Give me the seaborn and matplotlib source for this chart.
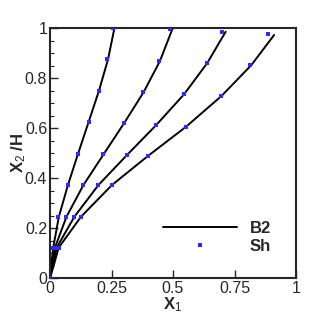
import matplotlib
matplotlib.use("Agg")
import matplotlib.pyplot as plt
import seaborn as sns
import pandas as pd
from matplotlib.ticker import MultipleLocator, FixedLocator
from matplotlib.lines import Line2D

# ---- data ----
# B2 lines
line1_x = [0, 0.003, 0.006, 0.013, 0.036, 0.073, 0.114, 0.157, 0.199, 0.236, 0.262]
line1_y = [0, 0.03, 0.06, 0.121, 0.245, 0.372, 0.497, 0.624, 0.749, 0.875, 1.0]
line2_x = [0, 0.005, 0.010, 0.020, 0.067, 0.136, 0.218, 0.301, 0.381, 0.447, 0.499]
line2_y = [0, 0.03, 0.06, 0.121, 0.245, 0.372, 0.495, 0.619, 0.744, 0.868, 1.0]
line3_x = [0, 0.007, 0.014, 0.027, 0.099, 0.197, 0.313, 0.432, 0.546, 0.640, 0.714]
line3_y = [0, 0.03, 0.06, 0.121, 0.245, 0.372, 0.492, 0.612, 0.736, 0.861, 0.985]
line4_x = [0, 0.009, 0.018, 0.035, 0.126, 0.252, 0.398, 0.553, 0.697, 0.818, 0.911]
line4_y = [0, 0.03, 0.06, 0.121, 0.245, 0.372, 0.488, 0.605, 0.728, 0.851, 0.972]

# Sh markers
sh1_x = [0, 0.013, 0.034, 0.072, 0.113, 0.157, 0.198, 0.233, 0.257]
sh1_y = [0, 0.121, 0.245, 0.372, 0.497, 0.624, 0.749, 0.875, 1.0]
sh2_x = [0, 0.020, 0.066, 0.135, 0.217, 0.301, 0.379, 0.444, 0.487]
sh2_y = [0, 0.121, 0.245, 0.372, 0.495, 0.619, 0.744, 0.868, 0.995]
sh3_x = [0, 0.027, 0.098, 0.196, 0.312, 0.431, 0.545, 0.637, 0.698]
sh3_y = [0, 0.121, 0.245, 0.372, 0.492, 0.612, 0.736, 0.861, 0.985]
sh4_x = [0, 0.035, 0.125, 0.251, 0.397, 0.552, 0.694, 0.813, 0.888]
sh4_y = [0, 0.121, 0.245, 0.372, 0.488, 0.605, 0.728, 0.851, 0.976]

x_ticks = [0, 0.25, 0.5, 0.75, 1]
x_ticklabels = ["0", "0.25", "0.5", "0.75", "1"]
y_ticks = [0, 0.2, 0.4, 0.6, 0.8, 1]
y_ticklabels = ["0", "0.2", "0.4", "0.6", "0.8", "1"]
legend_labels = ["B2", "Sh"]

# ---- build tables ----
lines = []
for i, (xs, ys) in enumerate([(line1_x, line1_y), (line2_x, line2_y),
                              (line3_x, line3_y), (line4_x, line4_y)]):
    lines.append(pd.DataFrame({"x": xs, "y": ys, "curve": i}))
df_lines = pd.concat(lines, ignore_index=True)

pts = []
for i, (xs, ys) in enumerate([(sh1_x, sh1_y), (sh2_x, sh2_y),
                              (sh3_x, sh3_y), (sh4_x, sh4_y)]):
    pts.append(pd.DataFrame({"x": xs, "y": ys, "curve": i}))
df_pts = pd.concat(pts, ignore_index=True)

# ---- style ----
sns.set_style("ticks")
plt.rcParams["font.family"] = ["Liberation Sans", "DejaVu Sans"]
plt.rcParams["mathtext.fontset"] = "custom"
plt.rcParams["mathtext.rm"] = "Liberation Sans"
plt.rcParams["mathtext.it"] = "Liberation Sans"
plt.rcParams["mathtext.bf"] = "Liberation Sans:bold"

fig = plt.figure(figsize=(3.3, 3.3), dpi=100)
ax = fig.add_axes([50/330, 52/330, 246/330, 250/330])

sns.lineplot(data=df_lines, x="x", y="y", units="curve", estimator=None,
             sort=False, color="black", linewidth=1.4, ax=ax, legend=False)
sns.scatterplot(data=df_pts, x="x", y="y", color="#2b2bff", marker="s",
                s=9, linewidth=0, ax=ax, legend=False, zorder=3)

ax.set_xlim(0, 1)
ax.set_ylim(0, 1)
ax.xaxis.set_major_locator(FixedLocator(x_ticks))
ax.set_xticklabels(x_ticklabels)
ax.yaxis.set_major_locator(FixedLocator(y_ticks))
ax.set_yticklabels(y_ticklabels)
ax.yaxis.set_minor_locator(MultipleLocator(0.05))
ax.tick_params(axis="both", which="major", direction="in", length=6,
               width=1.0, labelsize=11.5, pad=2, top=False, right=False)
ax.tick_params(axis="y", which="minor", direction="in", length=3,
               width=0.8, right=False)
for s in ax.spines.values():
    s.set_linewidth(1.5)
    s.set_visible(True)

ax.set_xlabel("X$_1$", fontsize=12, fontweight="bold", labelpad=0)
ax.set_ylabel("X$_2$ /H", fontsize=12, fontweight="bold", labelpad=-2)

# legend
handles = [Line2D([], [], color="black", linewidth=1.4),
           Line2D([], [], color="#2b2bff", marker="s", markersize=3,
                  linestyle="none", markeredgewidth=0)]
leg = ax.legend(handles, legend_labels, loc="lower right",
                bbox_to_anchor=(0.96, 0.035), frameon=False,
                handlelength=4.4, handletextpad=0.8, labelspacing=0.2,
                prop={"weight": "bold", "size": 12})

fig.savefig("out.png", dpi=100)
